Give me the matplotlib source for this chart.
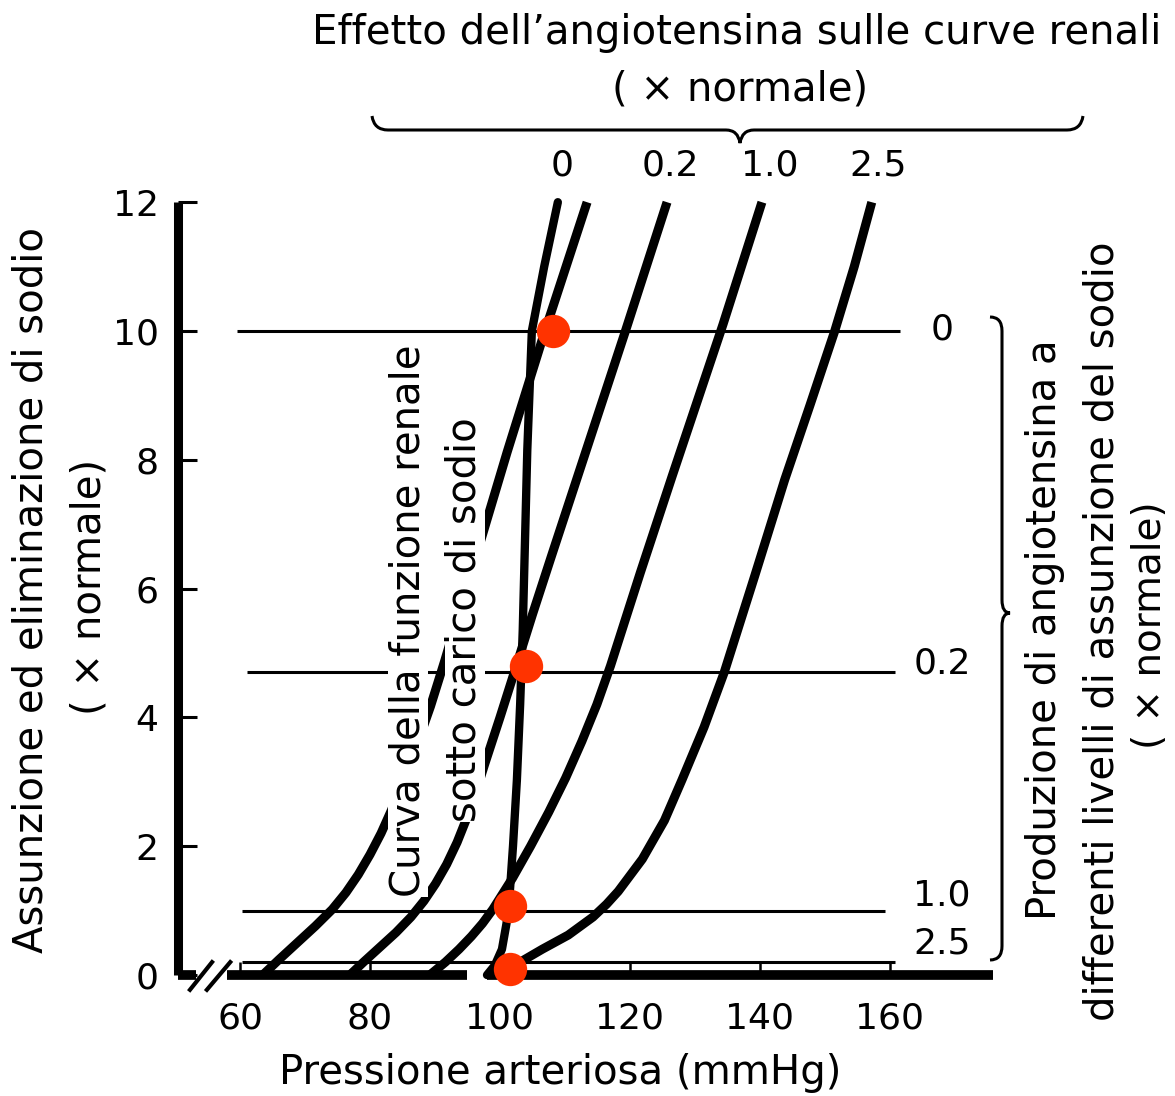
import matplotlib
matplotlib.use("Agg")
import matplotlib.pyplot as plt
from matplotlib.path import Path
from matplotlib.patches import PathPatch

plt.rcParams['font.family'] = ['DejaVu Sans']

# angiotensin levels on the renal curves (x normale)
ang_labels = ['0', '0.2', '1.0', '2.5']

# renal output curves: pressure (mmHg) / sodium (x normale)
curve_p = [
    [63.5, 66.0, 68.8, 71.6, 74.2, 76.3, 78.2, 80.0, 81.7, 83.3, 84.8, 86.3, 87.8,
     89.3, 91.5, 94.2, 96.9, 101.1, 106.6, 113.4],
    [76.9, 79.0, 81.5, 84.0, 86.3, 88.3, 90.1, 91.8, 93.4, 94.9, 96.3, 97.6, 100.0,
     102.2, 105.0, 107.9, 113.6, 119.3, 125.7],
    [89.2, 91.6, 93.7, 95.6, 97.3, 98.9, 101.9, 104.7, 107.5, 110.1, 112.6, 114.9,
     117.0, 121.6, 126.5, 134.3, 140.3],
    [101.5, 103.1, 106.5, 110.5, 114.3, 116.4, 118.2, 121.9, 125.3, 128.0, 131.4,
     134.5, 139.2, 143.8, 147.7, 151.5, 154.5, 157.2],
]
curve_s = [
    [0.0, 0.24, 0.5, 0.76, 1.02, 1.28, 1.56, 1.87, 2.2, 2.56, 2.94, 3.33, 3.74,
     4.17, 4.88, 5.8, 6.7, 8.12, 9.9, 12.0],
    [0.0, 0.2, 0.43, 0.66, 0.9, 1.15, 1.42, 1.72, 2.06, 2.44, 2.84, 3.26, 4.0,
     4.7, 5.6, 6.5, 8.25, 10.0, 12.0],
    [0.0, 0.2, 0.4, 0.6, 0.8, 1.02, 1.5, 2.0, 2.53, 3.06, 3.63, 4.2,
     4.8, 6.25, 7.75, 10.1, 12.0],
    [0.1, 0.2, 0.4, 0.62, 0.9, 1.1, 1.3, 1.8, 2.4, 3.03, 3.85,
     4.7, 6.2, 7.69, 8.85, 10.0, 11.0, 12.0],
]

# renal function curve under sodium load
load_p = [98.0, 99.2, 100.3, 101.0, 101.5, 102.0, 102.6, 103.1, 103.5, 104.2, 104.9, 106.8, 108.9]
load_s = [0.0, 0.15, 0.4, 0.8, 1.27, 2.0, 3.03, 4.2, 5.36, 8.15, 10.0, 11.0, 12.0]

# sodium intake levels (horizontal lines) and angiotensin produced at each
intake_levels = [10.0, 4.7, 1.0, 0.2]
intake_labels = ['0', '0.2', '1.0', '2.5']

# equilibrium points
eq_p = [108.2, 104.0, 101.5, 101.5]
eq_s = [10.0, 4.8, 1.07, 0.09]

x_ticks = [60, 80, 100, 120, 140, 160]
y_ticks = [0, 2, 4, 6, 8, 10, 12]

W, H = 1175, 1096
fig = plt.figure(figsize=(W / 100, H / 100), dpi=100)

# axes placed so that 100 mmHg -> px 500, 6.5 px per mmHg; S=0 -> 975, 64.4 px per unit
x_left, x_right = 50.46, 175.85
ax = fig.add_axes([178 / W, (H - 975) / H, (993 - 178) / W, (12 * 64.4) / H])
ax.set_xlim(x_left, x_right)
ax.set_ylim(0, 12)

for sp in ['top', 'right', 'bottom']:
    ax.spines[sp].set_visible(False)
ax.spines['left'].set_linewidth(6.5)
ax.spines['left'].set_capstyle('butt')

ax.set_xticks(x_ticks)
ax.set_yticks(y_ticks)
ax.tick_params(axis='y', direction='in', length=14, width=2.2, pad=14, labelsize=26)
ax.tick_params(axis='x', direction='in', length=9.5, width=1.8, pad=19, labelsize=26)

# broken x axis
ax.plot([x_left, 53.2], [0, 0], color='black', lw=7, solid_capstyle='butt', clip_on=False)
ax.plot([58.0, 94.9], [0, 0], color='black', lw=7, solid_capstyle='butt', clip_on=False)
ax.plot([98.0, x_right], [0, 0], color='black', lw=7, solid_capstyle='butt', clip_on=False)
ax.plot([52.3, 55.7], [-0.23, 0.2], color='black', lw=3, clip_on=False)
ax.plot([54.9, 58.5], [-0.23, 0.2], color='black', lw=3, clip_on=False)

# intake lines
line_start = [59.5, 61.0, 60.3, 60.3]
line_end = [161.5, 160.8, 159.2, 160.8]
for lev, x0, x1 in zip(intake_levels, line_start, line_end):
    ax.plot([x0, x1], [lev, lev], color='black', lw=2.2, solid_capstyle='butt', clip_on=False)

for p, s in zip(curve_p, curve_s):
    ax.plot(p, s, color='black', lw=6.5, solid_capstyle='butt', solid_joinstyle='round', clip_on=False)
ax.plot(load_p, load_s, color='black', lw=6.0, solid_capstyle='round', solid_joinstyle='round', clip_on=False)

ax.plot(eq_p, eq_s, 'o', color='#ff3300', markersize=24, markeredgewidth=0, clip_on=False, zorder=5)

# overlay in pixel coordinates for labels and braces
ov = fig.add_axes([0, 0, 1, 1])
ov.set_xlim(0, W)
ov.set_ylim(H, 0)
ov.axis('off')
ov.patch.set_alpha(0)

ov.text(737, 33, "Effetto dell\u2019angiotensina sulle curve renali", fontsize=29, ha='center', va='center')
ov.text(740, 90, "( \u00d7 normale)", fontsize=29, ha='center', va='center')

top_x = [562, 670, 770, 878]
for lab, x in zip(ang_labels, top_x):
    ov.text(x, 165, lab, fontsize=26, ha='center', va='center')

right_y = [330, 663, 895, 944]
for lab, y in zip(intake_labels, right_y):
    ov.text(942, y, lab, fontsize=26, ha='center', va='center')

box = dict(facecolor='white', edgecolor='none', pad=0)
ov.text(408, 621, "Curva della funzione renale", fontsize=29, rotation=90,
        ha='center', va='center', bbox=box)
ov.text(465, 620, "sotto carico di sodio", fontsize=29, rotation=90,
        ha='center', va='center', bbox=box)

ov.text(32, 590, "Assunzione ed eliminazione di sodio", fontsize=29, rotation=90, ha='center', va='center')
ov.text(90, 587, "( \u00d7 normale)", fontsize=29, rotation=90, ha='center', va='center')
ov.text(1045, 630, "Produzione di angiotensina a", fontsize=29, rotation=90, ha='center', va='center')
ov.text(1103, 631, "differenti livelli di assunzione del sodio", fontsize=29, rotation=90, ha='center', va='center')
ov.text(1150, 625, "( \u00d7 normale)", fontsize=28, rotation=90, ha='center', va='center')
ov.text(560, 1073, "Pressione arteriosa (mmHg)", fontsize=29, ha='center', va='center')

C3 = Path.CURVE3
# brace above the plot
top_brace = Path(
    [(372, 116), (374, 130), (388, 130), (726, 130), (738, 130), (740, 143),
     (742, 130), (754, 130), (1067, 130), (1081, 130), (1083, 116)],
    [Path.MOVETO, C3, C3, Path.LINETO, C3, C3, C3, C3, Path.LINETO, C3, C3])
ov.add_patch(PathPatch(top_brace, facecolor='none', edgecolor='black', lw=2.2))

# brace on the right
right_brace = Path(
    [(990, 317), (1002, 317), (1002, 331), (1002, 600), (1002, 613), (1010, 613),
     (1002, 613), (1002, 626), (1002, 946), (1002, 960), (990, 960)],
    [Path.MOVETO, C3, C3, Path.LINETO, C3, C3, C3, C3, Path.LINETO, C3, C3])
ov.add_patch(PathPatch(right_brace, facecolor='none', edgecolor='black', lw=2.2))

fig.savefig("out.png", dpi=100)
